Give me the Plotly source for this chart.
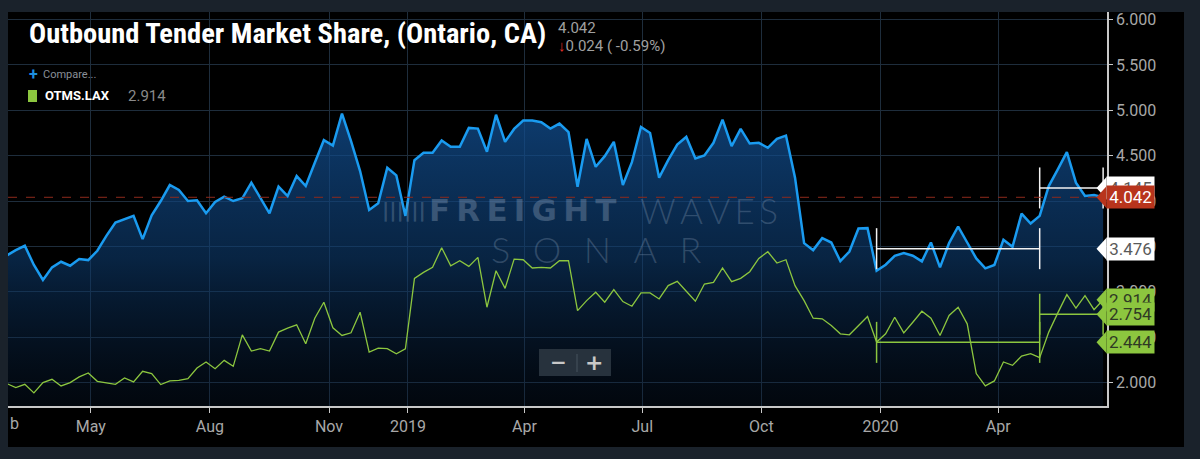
import pandas as pd
import plotly.graph_objects as go

# weekly Outbound Tender Market Share (OTMS) values
week_start = "2018-02-25"

otms_ont = [
    3.40, 3.46,
    3.508, 3.296, 3.131, 3.270, 3.332, 3.288, 3.361, 3.350, 3.453, 3.617,
    3.764, 3.800, 3.837, 3.581, 3.844, 4.001, 4.177, 4.122, 4.001, 4.009,
    3.866, 3.990, 4.049, 4.001, 4.031, 4.203, 4.038, 3.866, 4.159, 4.056,
    4.276, 4.166, 4.422, 4.671, 4.612, 4.963, 4.660, 4.331, 3.903, 3.976,
    4.367, 4.283, 3.837, 4.451,
    4.532, 4.532, 4.667, 4.598, 4.598, 4.806, 4.799, 4.543, 4.952, 4.653,
    4.795, 4.887, 4.887, 4.868, 4.799, 4.854, 4.759, 4.159, 4.685, 4.378,
    4.495, 4.653, 4.177, 4.429, 4.817, 4.751, 4.258, 4.451, 4.623, 4.707,
    4.470, 4.503, 4.642, 4.898, 4.605, 4.795, 4.634, 4.642, 4.587, 4.685,
    4.722, 4.258, 3.537,
    3.460, 3.592, 3.544, 3.339, 3.445, 3.698, 3.702, 3.233, 3.299, 3.398,
    3.427, 3.398, 3.336, 3.544, 3.270, 3.537, 3.720, 3.544, 3.369, 3.259,
    3.296, 3.574, 3.497, 3.862, 3.753, 3.837, 4.166, 4.349, 4.539, 4.203,
    4.056, 4.066, 4.042,
]

otms_lax = [
    1.99, 1.946,
    1.982, 1.887, 2.001, 2.037, 1.964, 2.001, 2.063, 2.107, 2.015, 2.001,
    1.982, 2.052, 2.008, 2.125, 2.100, 1.979, 2.019, 2.026, 2.045, 2.162,
    2.228, 2.154, 2.246, 2.180, 2.527, 2.348, 2.374, 2.348, 2.557, 2.601,
    2.637, 2.429, 2.710, 2.886, 2.604, 2.520, 2.549, 2.776, 2.337, 2.381,
    2.374, 2.319, 2.374, 3.149,
    3.215, 3.270, 3.486, 3.288, 3.343, 3.281, 3.380, 2.831, 3.233, 3.039,
    3.361, 3.354, 3.263, 3.270, 3.263, 3.343, 3.343, 2.794, 2.904, 2.996,
    2.886, 3.025, 2.893, 2.842, 2.988, 2.988, 2.922, 3.069, 3.116, 3.007,
    2.897, 3.087, 3.105, 3.263, 3.113, 3.149, 3.222, 3.369, 3.442, 3.318,
    3.354, 3.069, 2.904,
    2.710, 2.703, 2.630, 2.538, 2.527, 2.623, 2.729, 2.447, 2.538, 2.721,
    2.549, 2.666, 2.787, 2.710, 2.520, 2.740, 2.831, 2.648, 2.100, 1.964,
    2.019, 2.228, 2.191, 2.293, 2.319, 2.275, 2.557, 2.769, 2.970, 2.820,
    2.959, 2.805, 2.914,
]

dates = pd.date_range(week_start, periods=len(otms_ont), freq="7D")

# measured period averages (bracket tool)
bracket_start = ["2019-12-29", "2020-05-03"]
bracket_end = ["2020-05-03", "2020-06-21"]
ont_avg = [3.476, 4.145]
lax_avg = [2.444, 2.754]

# x axis ticks
tick_dates = ["2018-05-01", "2018-08-01", "2018-11-01", "2019-01-01", "2019-04-01",
              "2019-07-01", "2019-10-01", "2020-01-01", "2020-04-01"]
tick_text = ["May", "Aug", "Nov", "2019", "Apr", "Jul", "Oct", "2020", "Apr"]

# colours
BLUE = "#1a9bf0"
GREEN = "#8cc63f"
WHITE = "#f2f2f2"
RED = "#b8341c"
GRID = "#1e2d3c"
AXIS = "#c8c8c8"
TICKTXT = "#a8a8a8"

# figure geometry (pixels)
W, H = 1200, 459
L, R, T, B = 8, 1107, 12, 406


def px_x(px):
    return (px - L) / (R - L)


def px_y(py):
    return (B - py) / (B - T)


fig = go.Figure()

# Ontario series with gradient fill
fig.add_trace(go.Scatter(
    x=dates, y=otms_ont, mode="lines",
    line=dict(color=BLUE, width=2.5),
    fill="tozeroy",
    fillgradient=dict(
        type="vertical",
        colorscale=[[0, "rgba(8,28,55,0.25)"], [0.5, "rgba(14,62,115,0.58)"], [1, "rgba(18,80,148,0.75)"]],
        start=1.74, stop=5.0,
    ),
    hoverinfo="skip", showlegend=False,
))

fig.add_trace(go.Scatter(
    x=dates, y=otms_lax, mode="lines",
    line=dict(color=GREEN, width=1.3),
    hoverinfo="skip", showlegend=False,
))

shapes = []

# black chart backdrop
shapes.append(dict(type="rect", xref="paper", yref="paper",
                   x0=0, x1=px_x(1184), y0=px_y(447), y1=px_y(12),
                   fillcolor="black", line=dict(width=0), layer="below"))

# brackets (average lines with end ticks)
for vals, col in [(ont_avg, WHITE), (lax_avg, GREEN)]:
    for s, e, v in zip(bracket_start, bracket_end, vals):
        fig.add_trace(go.Scatter(x=[s, e], y=[v, v], mode="lines",
                                 line=dict(color=col, width=1.5),
                                 hoverinfo="skip", showlegend=False))
        for d in (s, e):
            shapes.append(dict(type="line", xref="x", x0=d, x1=d,
                               yref="y", ysizemode="pixel", yanchor=v, y0=-20.5, y1=20.5,
                               line=dict(color=col, width=1.5), layer="above"))

# current value dashed line
shapes.append(dict(type="line", xref="paper", x0=0, x1=px_x(1097),
                   yref="y", y0=otms_ont[-1], y1=otms_ont[-1],
                   line=dict(color="#8e2a1c", width=1, dash="dash"), layer="above"))

annotations = []

# right-hand value tags (drawn in stacking order)
tags = [
    (ont_avg[1], "white", "#5a5a5a"),
    (otms_ont[-1], RED, "white"),
    (ont_avg[0], "white", "#5a5a5a"),
    (lax_avg[0], GREEN, "#2f3a24"),
    (otms_lax[-1], GREEN, "#2f3a24"),
    (lax_avg[1], GREEN, "#2f3a24"),
]
for v, bg, fg in tags:
    shapes.append(dict(type="path", xref="paper", xanchor=1, xsizemode="pixel",
                       yref="y", yanchor=v, ysizemode="pixel",
                       path="M -10.5,0 L -0.5,11 L -0.5,-11 Z",
                       fillcolor=bg, line=dict(width=0), layer="above"))
    annotations.append(dict(xref="paper", x=1, xanchor="left", xshift=-1,
                            yref="y", y=v, yanchor="middle",
                            text=f"{v:.3f}", showarrow=False,
                            width=47, height=22, align="center",
                            bgcolor=bg, borderpad=0,
                            font=dict(family="Roboto", size=17, color=fg)))

# title block
annotations.append(dict(xref="paper", yref="paper", x=px_x(27), y=px_y(33),
                        xanchor="left", yanchor="middle", showarrow=False,
                        text="<b>Outbound Tender Market Share, (Ontario, CA)</b>",
                        font=dict(family="Liberation Sans Narrow, Roboto Condensed, Roboto", size=28.5, color="white")))
last, prev = otms_ont[-1], otms_ont[-2]
chg = last - prev
annotations.append(dict(xref="paper", yref="paper", x=px_x(556), y=px_y(28),
                        xanchor="left", yanchor="middle", showarrow=False,
                        text=f"{last:.3f}",
                        font=dict(family="Roboto", size=15, color="#a0a0a0")))
annotations.append(dict(xref="paper", yref="paper", x=px_x(556), y=px_y(46),
                        xanchor="left", yanchor="middle", showarrow=False,
                        text=f"<span style='color:#e0302a'><b>↓</b></span>{abs(chg):.3f} ( {chg / prev * 100:.2f}%)",
                        font=dict(family="Roboto", size=15, color="#a0a0a0")))

# legend block
annotations.append(dict(xref="paper", yref="paper", x=px_x(27), y=px_y(74),
                        xanchor="left", yanchor="middle", showarrow=False,
                        text="<b>+</b>", font=dict(family="Roboto", size=16, color="#1d8fe0")))
annotations.append(dict(xref="paper", yref="paper", x=px_x(41), y=px_y(74),
                        xanchor="left", yanchor="middle", showarrow=False,
                        text="Compare...", font=dict(family="Roboto", size=11, color="#8a9099")))
shapes.append(dict(type="rect", xref="paper", yref="paper",
                   x0=px_x(28), x1=px_x(37), y0=px_y(102), y1=px_y(90),
                   fillcolor=GREEN, line=dict(width=0)))
annotations.append(dict(xref="paper", yref="paper", x=px_x(43), y=px_y(96),
                        xanchor="left", yanchor="middle", showarrow=False,
                        text="<b>OTMS.LAX</b>", font=dict(family="Roboto", size=13, color="white")))
annotations.append(dict(xref="paper", yref="paper", x=px_x(126), y=px_y(96),
                        xanchor="left", yanchor="middle", showarrow=False,
                        text=f"{otms_lax[-1]:.3f}", font=dict(family="Roboto", size=15, color="#8a8a8a")))

# watermark
annotations.append(dict(xref="paper", yref="paper", x=px_x(427), y=px_y(210),
                        xanchor="left", yanchor="middle", showarrow=False,
                        text="<b>F\u2009R\u2009E\u2009I\u2009G\u2009H\u2009T</b>",
                        font=dict(family="DejaVu Sans", size=31, color="rgba(150,170,195,0.34)")))
annotations.append(dict(xref="paper", yref="paper", x=px_x(638), y=px_y(210),
                        xanchor="left", yanchor="middle", showarrow=False,
                        text="W\u2009A\u2009V\u2009E\u2009S",
                        font=dict(family="Lato", size=35, weight=300, color="rgba(150,170,195,0.28)")))
annotations.append(dict(xref="paper", yref="paper", x=px_x(596), y=px_y(249),
                        xanchor="center", yanchor="middle", showarrow=False,
                        text="S\u2002\u2009O\u2002\u2009N\u2002\u2009A\u2002\u2009R",
                        font=dict(family="Lato", size=36, weight=300, color="rgba(150,170,195,0.28)")))
annotations.append(dict(xref="paper", yref="paper", x=px_x(404), y=px_y(210),
                        xanchor="center", yanchor="middle", showarrow=False,
                        text="<b>||||||</b>",
                        font=dict(family="DejaVu Sans", size=20, color="rgba(150,170,195,0.3)")))

# zoom control
shapes.append(dict(type="rect", xref="paper", yref="paper",
                   x0=px_x(539), x1=px_x(611), y0=px_y(376), y1=px_y(349),
                   fillcolor="#27323d", line=dict(width=0), layer="above"))
shapes.append(dict(type="line", xref="paper", yref="paper",
                   x0=px_x(577), x1=px_x(577), y0=px_y(372), y1=px_y(354),
                   line=dict(color="#46525e", width=1), layer="above"))
annotations.append(dict(xref="paper", yref="paper", x=px_x(558), y=px_y(362),
                        xanchor="center", yanchor="middle", showarrow=False,
                        text="<b>−</b>", font=dict(family="DejaVu Sans", size=20, color="#c8c8c8")))
annotations.append(dict(xref="paper", yref="paper", x=px_x(594), y=px_y(362),
                        xanchor="center", yanchor="middle", showarrow=False,
                        text="<b>+</b>", font=dict(family="DejaVu Sans", size=22, color="#c8c8c8")))

# cut-off "Feb" tick label at the left edge
annotations.append(dict(xref="paper", yref="paper", x=px_x(7.5), y=px_y(423),
                        xanchor="left", yanchor="middle", showarrow=False,
                        text="b", font=dict(family="Roboto", size=16, color=TICKTXT)))

fig.update_layout(
    width=W, height=H,
    margin=dict(l=L, r=W - R, t=T, b=H - B, autoexpand=False),
    paper_bgcolor="#1a222b",
    plot_bgcolor="black",
    font=dict(family="Roboto", color=TICKTXT),
    showlegend=False,
    shapes=shapes,
    annotations=annotations,
    xaxis=dict(
        range=["2018-02-26", "2020-06-24"],
        tickvals=tick_dates, ticktext=tick_text,
        showgrid=True, gridcolor=GRID, gridwidth=1,
        showline=True, linecolor=AXIS, linewidth=2,
        ticks="outside", ticklen=5, tickcolor=AXIS,
        tickfont=dict(size=16, color=TICKTXT),
        zeroline=False, automargin=False,
    ),
    yaxis=dict(
        side="right",
        range=[1.743, 6.083],
        tick0=0, dtick=0.5, tickformat=".3f",
        showgrid=True, gridcolor=GRID, gridwidth=1,
        showline=True, linecolor=AXIS, linewidth=1.5,
        ticks="outside", ticklen=4, tickcolor=AXIS,
        tickfont=dict(size=16, color=TICKTXT),
        zeroline=False, automargin=False,
    ),
)

# page body has a default margin; drop it so the figure sits at the window corner
fig.write_html("out.html", config={"displayModeBar": False},
               post_script="document.body.style.margin='0px';")
